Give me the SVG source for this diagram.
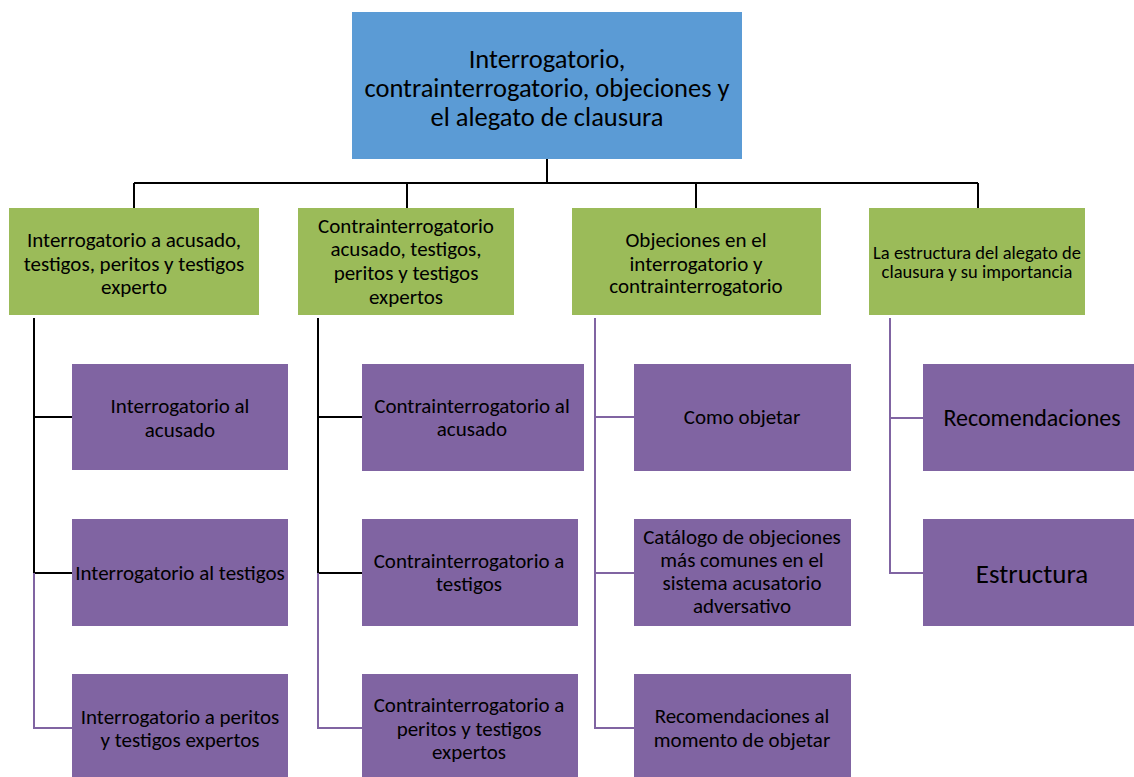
<svg xmlns="http://www.w3.org/2000/svg" width="1134" height="777" viewBox="0 0 1134 777">
  <style>
    text { font-family: Carlito, Lato, "Liberation Sans", sans-serif; fill: #000; text-anchor: middle; }
    .root { fill: #5B9BD5; }
    .topic { fill: #9BBB59; }
    .sub { fill: #8064A2; }
    .t22 { font-size: 26.5px; }
    .t18 { font-size: 21px; }
    .t15 { font-size: 18.5px; }
    .black { stroke: #000; stroke-width: 2; fill: none; }
    .violet { stroke: #8064A2; stroke-width: 2; fill: none; }
  </style>
  <rect width="1134" height="777" fill="#fff"/>

  <!-- connectors -->
  <g id="connectors">
    <!-- root to topics -->
    <path class="black" d="M547 159 V183 M134 183 H978 M134 183 V208 M407 183 V208 M696 183 V208 M978 183 V208"/>
    <!-- column 1 -->
    <path class="black" d="M34 318 V573 M34 417 H72 M34 573 H72"/>
    <path class="violet" d="M34 573 V728 H72"/>
    <!-- column 2 -->
    <path class="black" d="M318 318 V573 M318 417 H362 M318 573 H362"/>
    <path class="violet" d="M318 573 V728 H362"/>
    <!-- column 3 -->
    <path class="violet" d="M595 318 V728 H634 M595 417 H634 M595 573 H634"/>
    <!-- column 4 -->
    <path class="violet" d="M890 318 V573 H923 M890 418 H923"/>
  </g>

  <!-- root -->
  <g id="root">
    <rect class="root" x="352" y="12" width="390" height="147"/>
    <text class="t22" x="547" y="68">Interrogatorio,</text>
    <text class="t22" x="547" y="97">contrainterrogatorio, objeciones y</text>
    <text class="t22" x="547" y="126">el alegato de clausura</text>
  </g>

  <!-- topics -->
  <g id="topic-interrogatorio">
    <rect class="topic" x="9" y="208" width="250" height="107"/>
    <text class="t18" x="134" y="247">Interrogatorio a acusado,</text>
    <text class="t18" x="134" y="271">testigos, peritos y testigos</text>
    <text class="t18" x="134" y="294">experto</text>
  </g>
  <g id="topic-contrainterrogatorio">
    <rect class="topic" x="298" y="208" width="216" height="107"/>
    <text class="t18" x="406" y="233">Contrainterrogatorio</text>
    <text class="t18" x="406" y="256">acusado, testigos,</text>
    <text class="t18" x="406" y="280">peritos y testigos</text>
    <text class="t18" x="406" y="304">expertos</text>
  </g>
  <g id="topic-objeciones">
    <rect class="topic" x="572" y="208" width="249" height="107"/>
    <text class="t18" x="696" y="247">Objeciones en el</text>
    <text class="t18" x="696" y="271">interrogatorio y</text>
    <text class="t18" x="696" y="293">contrainterrogatorio</text>
  </g>
  <g id="topic-alegato">
    <rect class="topic" x="869" y="208" width="216" height="107"/>
    <text class="t15" x="977" y="259">La estructura del alegato de</text>
    <text class="t15" x="977" y="278">clausura y su importancia</text>
  </g>

  <!-- column 1 items -->
  <g id="int-acusado">
    <rect class="sub" x="72" y="364" width="216" height="106"/>
    <text class="t18" x="180" y="413">Interrogatorio al</text>
    <text class="t18" x="180" y="437">acusado</text>
  </g>
  <g id="int-testigos">
    <rect class="sub" x="72" y="519" width="216" height="107"/>
    <text class="t18" x="180" y="580">Interrogatorio al testigos</text>
  </g>
  <g id="int-peritos">
    <rect class="sub" x="72" y="674" width="216" height="103"/>
    <text class="t18" x="180" y="724">Interrogatorio a peritos</text>
    <text class="t18" x="180" y="747">y testigos expertos</text>
  </g>

  <!-- column 2 items -->
  <g id="contra-acusado">
    <rect class="sub" x="362" y="364" width="222" height="107"/>
    <text class="t18" x="472" y="413">Contrainterrogatorio al</text>
    <text class="t18" x="472" y="436">acusado</text>
  </g>
  <g id="contra-testigos">
    <rect class="sub" x="362" y="519" width="216" height="107"/>
    <text class="t18" x="469" y="568">Contrainterrogatorio a</text>
    <text class="t18" x="469" y="591">testigos</text>
  </g>
  <g id="contra-peritos">
    <rect class="sub" x="362" y="674" width="216" height="103"/>
    <text class="t18" x="469" y="712">Contrainterrogatorio a</text>
    <text class="t18" x="469" y="736">peritos y testigos</text>
    <text class="t18" x="469" y="759">expertos</text>
  </g>

  <!-- column 3 items -->
  <g id="como-objetar">
    <rect class="sub" x="634" y="364" width="217" height="107"/>
    <text class="t18" x="742" y="424">Como objetar</text>
  </g>
  <g id="catalogo">
    <rect class="sub" x="634" y="519" width="217" height="107"/>
    <text class="t18" x="742" y="544">Catálogo de objeciones</text>
    <text class="t18" x="742" y="567">más comunes en el</text>
    <text class="t18" x="742" y="590">sistema acusatorio</text>
    <text class="t18" x="742" y="613">adversativo</text>
  </g>
  <g id="recomendaciones-objetar">
    <rect class="sub" x="634" y="674" width="217" height="103"/>
    <text class="t18" x="742" y="723">Recomendaciones al</text>
    <text class="t18" x="742" y="747">momento de objetar</text>
  </g>

  <!-- column 4 items -->
  <g id="recomendaciones">
    <rect class="sub" x="923" y="364" width="211" height="107"/>
    <text x="1032" y="426" style="font-size:24px">Recomendaciones</text>
  </g>
  <g id="estructura">
    <rect class="sub" x="923" y="519" width="211" height="107"/>
    <text x="1032" y="583" style="font-size:27px">Estructura</text>
  </g>
</svg>
